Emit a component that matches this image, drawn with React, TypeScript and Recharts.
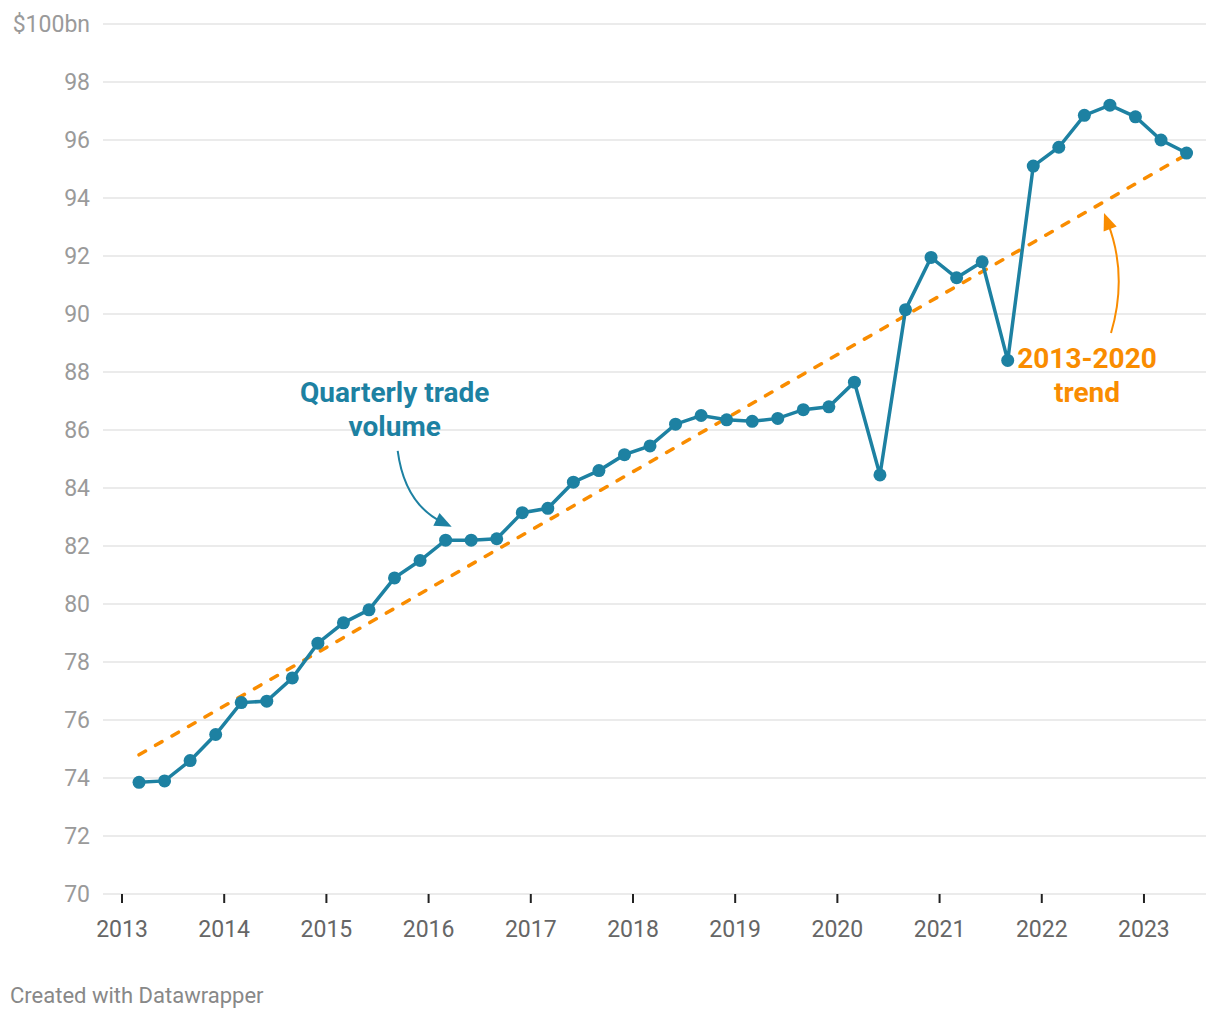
import React from 'react';
import { LineChart, Line, XAxis, YAxis, CartesianGrid, ReferenceDot } from 'recharts';

const years = [2013, 2013, 2013, 2013, 2014, 2014, 2014, 2014, 2015, 2015, 2015, 2015, 2016, 2016, 2016, 2016, 2017, 2017, 2017, 2017, 2018, 2018, 2018, 2018, 2019, 2019, 2019, 2019, 2020, 2020, 2020, 2020, 2021, 2021, 2021, 2021, 2022, 2022, 2022, 2022, 2023, 2023];
const months = [3, 6, 9, 12, 3, 6, 9, 12, 3, 6, 9, 12, 3, 6, 9, 12, 3, 6, 9, 12, 3, 6, 9, 12, 3, 6, 9, 12, 3, 6, 9, 12, 3, 6, 9, 12, 3, 6, 9, 12, 3, 6];
const volume = [73.85, 73.9, 74.6, 75.5, 76.6, 76.65, 77.45, 78.65, 79.35, 79.8, 80.9, 81.5, 82.2, 82.2, 82.25, 83.15, 83.3, 84.2, 84.6, 85.15, 85.45, 86.2, 86.5, 86.35, 86.3, 86.4, 86.7, 86.8, 87.65, 84.45, 90.15, 91.95, 91.25, 91.8, 88.4, 95.1, 95.75, 96.85, 97.2, 96.8, 96.0, 95.55];
const trendStart = 74.8;
const trendEnd = 95.5;
const xTicks = [2013, 2014, 2015, 2016, 2017, 2018, 2019, 2020, 2021, 2022, 2023];
const yTicks = [70, 72, 74, 76, 78, 80, 82, 84, 86, 88, 90, 92, 94, 96, 98, 100];

const TEAL = '#1d81a2';
const ORANGE = '#f98c00';
const FONT = 'Roboto, sans-serif';

const data = volume.map((v, i) => ({
  x: years[i] + (months[i] - 1) / 12,
  volume: v,
  trend: i === 0 ? trendStart : i === volume.length - 1 ? trendEnd : null,
}));

function Arrow({ sx, sy, cx, cy, color }: { sx: number; sy: number; cx: number; cy: number; color: string }) {
  const dx = 0 - cx;
  const dy = 0 - cy;
  const len = Math.sqrt(dx * dx + dy * dy);
  const ux = dx / len;
  const uy = dy / len;
  const hl = 17;
  const hw = 7;
  const bx = -ux * hl;
  const by = -uy * hl;
  const p1 = `${bx - uy * hw},${by + ux * hw}`;
  const p2 = `${bx + uy * hw},${by - ux * hw}`;
  return (
    <g>
      <path d={`M${sx},${sy} Q${cx},${cy} ${bx * 0.6},${by * 0.6}`} fill="none" stroke={color} strokeWidth={2} />
      <polygon points={`0,0 ${p1} ${p2}`} fill={color} />
    </g>
  );
}

const tealNote = (props: any) => {
  const { cx, cy } = props;
  return (
    <g transform={`translate(${cx},${cy})`}>
      <Arrow sx={-54} sy={-76} cx={-47} cy={-23} color={TEAL} />
      <text x={-57} y={-135 + 10} textAnchor="middle" fill={TEAL} fontFamily={FONT} fontWeight={700} fontSize={28}>Quarterly trade</text>
      <text x={-57} y={-101 + 10} textAnchor="middle" fill={TEAL} fontFamily={FONT} fontWeight={700} fontSize={28}>volume</text>
    </g>
  );
};

const orangeNote = (props: any) => {
  const { cx, cy } = props;
  return (
    <g transform={`translate(${cx},${cy})`}>
      <Arrow sx={7} sy={120} cx={24} cy={62} color={ORANGE} />
      <text x={-17} y={145 + 10} textAnchor="middle" fill={ORANGE} fontFamily={FONT} fontWeight={700} fontSize={28}>2013-2020</text>
      <text x={-17} y={179 + 10} textAnchor="middle" fill={ORANGE} fontFamily={FONT} fontWeight={700} fontSize={28}>trend</text>
    </g>
  );
};

export default function App() {
  return (
    <div style={{ position: 'absolute', left: 0, top: 0, width: 1220, height: 1020, background: '#fff', fontFamily: FONT }}>
      <LineChart width={1220} height={1020} data={data} margin={{ top: 24, right: 14, left: 0, bottom: 66 }}>
        <CartesianGrid vertical={false} stroke="#e4e4e4" strokeWidth={1.5} />
        <XAxis
          type="number"
          dataKey="x"
          domain={[2012.814, 2023.607]}
          allowDataOverflow
          ticks={xTicks}
          tickFormatter={(v: number) => String(Math.round(v))}
          axisLine={false}
          tickLine={{ stroke: '#222', strokeWidth: 2 }}
          tickSize={9}
          tickMargin={18}
          height={60}
          tick={{ fill: '#666', fontSize: 23, fontFamily: FONT }}
          interval={0}
        />
        <YAxis
          type="number"
          domain={[70, 100]}
          ticks={yTicks}
          allowDataOverflow
          tickFormatter={(v: number) => (v === 100 ? '$100bn' : String(v))}
          axisLine={false}
          tickLine={false}
          tickSize={0}
          tickMargin={13}
          width={103}
          tick={{ fill: '#9a9a9a', fontSize: 23, fontFamily: FONT }}
          interval={0}
        />
        <Line
          type="linear"
          dataKey="trend"
          stroke={ORANGE}
          strokeWidth={3.5}
          strokeDasharray="7.5 11.5"
          strokeLinecap="round"
          connectNulls
          dot={false}
          activeDot={false}
          isAnimationActive={false}
        />
        <Line
          type="linear"
          dataKey="volume"
          stroke={TEAL}
          strokeWidth={3.5}
          dot={{ r: 6.5, fill: TEAL, stroke: 'none' }}
          activeDot={false}
          isAnimationActive={false}
        />
        <ReferenceDot x={2016.226} y={82.66} r={0} shape={tealNote} />
        <ReferenceDot x={2022.609} y={93.48} r={0} shape={orangeNote} />
      </LineChart>
      <div style={{ position: 'absolute', left: 10, top: 983, fontSize: 22, color: '#888', fontFamily: FONT }}>Created with Datawrapper</div>
    </div>
  );
}
